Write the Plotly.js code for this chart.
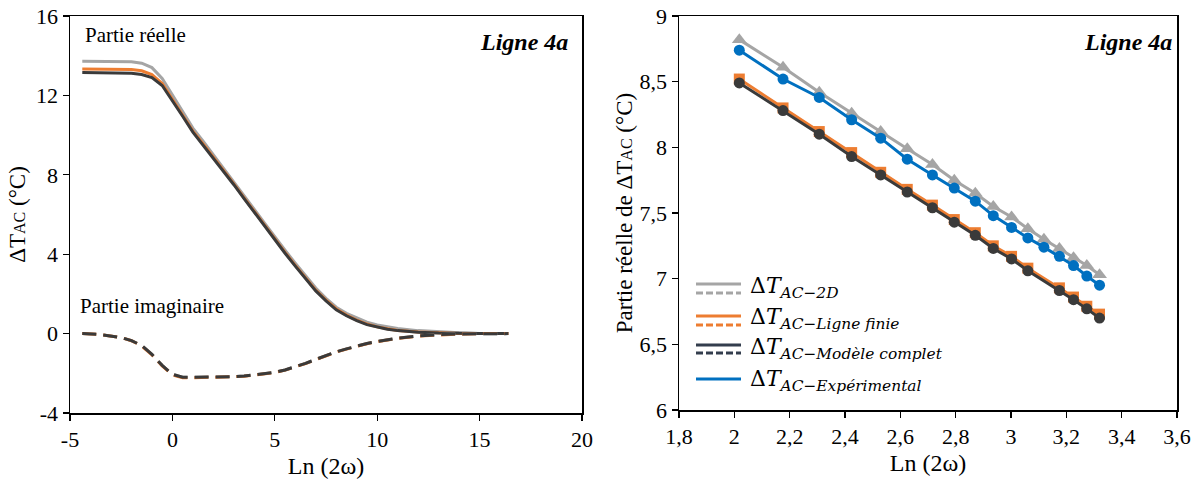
<!DOCTYPE html>
<html>
<head>
<meta charset="utf-8">
<script src="https://cdn.plot.ly/plotly-3.0.1.min.js"></script>
<style>html,body{margin:0;padding:0;background:#fff;}#chart{width:1200px;height:488px;}</style>
</head>
<body>
<div id="chart"></div>
<script>
// ---------- Left panel: full frequency response ----------
const lnOmega = [-4.4, -3.5, -2.5, -2, -1.5, -1, -0.5, 0, 0.5, 1, 1.5, 2, 2.5, 3, 3.5, 4, 4.5, 5, 5.5, 6, 6.5, 7, 7.5, 8, 8.5, 9, 9.5, 10, 10.5, 11, 12, 13, 14, 15, 16.4];
const real2D = [13.72, 13.72, 13.72, 13.7, 13.62, 13.4, 12.85, 12.0, 11.15, 10.35, 9.7, 9.02, 8.36, 7.66, 6.96, 6.26, 5.56, 4.86, 4.2, 3.55, 2.9, 2.3, 1.78, 1.33, 1.02, 0.78, 0.58, 0.44, 0.34, 0.26, 0.15, 0.08, 0.04, 0.01, 0];
const realLigne = [13.33, 13.33, 13.33, 13.3, 13.24, 13.05, 12.6, 11.8, 11.0, 10.2, 9.55, 8.9, 8.24, 7.54, 6.84, 6.14, 5.44, 4.74, 4.09, 3.44, 2.79, 2.19, 1.69, 1.24, 0.93, 0.68, 0.48, 0.34, 0.24, 0.16, 0.08, 0.03, 0.01, 0, 0];
const realComplet = [13.15, 13.15, 13.14, 13.12, 13.05, 12.9, 12.5, 11.75, 10.95, 10.15, 9.5, 8.85, 8.2, 7.5, 6.8, 6.1, 5.4, 4.7, 4.05, 3.4, 2.75, 2.15, 1.65, 1.2, 0.9, 0.65, 0.45, 0.32, 0.22, 0.15, 0.07, 0.03, 0.01, 0, 0];
const imag2D = [0, -0.05, -0.2, -0.35, -0.6, -1.05, -1.6, -2.05, -2.2, -2.2, -2.2, -2.19, -2.18, -2.17, -2.14, -2.08, -2.02, -1.95, -1.83, -1.68, -1.5, -1.3, -1.1, -0.92, -0.77, -0.63, -0.5, -0.4, -0.3, -0.23, -0.12, -0.05, -0.02, 0, 0];
const imagLigne = [0, -0.05, -0.2, -0.36, -0.62, -1.07, -1.63, -2.08, -2.23, -2.23, -2.22, -2.2, -2.19, -2.18, -2.15, -2.09, -2.03, -1.96, -1.84, -1.69, -1.51, -1.31, -1.11, -0.93, -0.78, -0.64, -0.51, -0.41, -0.31, -0.24, -0.13, -0.06, -0.02, 0, 0];
const imagComplet = [0, -0.05, -0.2, -0.35, -0.6, -1.05, -1.6, -2.05, -2.2, -2.2, -2.2, -2.19, -2.18, -2.17, -2.14, -2.08, -2.02, -1.95, -1.83, -1.68, -1.5, -1.3, -1.1, -0.92, -0.77, -0.63, -0.5, -0.4, -0.3, -0.23, -0.12, -0.05, -0.02, 0, 0];

// ---------- Right panel: zoom on the real part ----------
const lnOmegaAll = [2.018, 2.176, 2.307, 2.424, 2.529, 2.625, 2.716, 2.795, 2.871, 2.936, 3.002, 3.061, 3.119, 3.175, 3.226, 3.274, 3.320];
const zoom2D = [8.82, 8.61, 8.42, 8.26, 8.12, 7.99, 7.87, 7.75, 7.65, 7.55, 7.47, 7.38, 7.30, 7.23, 7.16, 7.10, 7.03];
const zoomExp = [8.74, 8.52, 8.38, 8.21, 8.07, 7.91, 7.79, 7.69, 7.59, 7.48, 7.39, 7.31, 7.24, 7.17, 7.10, 7.02, 6.95];
const lnOmegaModel = [2.018, 2.176, 2.307, 2.424, 2.529, 2.625, 2.716, 2.795, 2.871, 2.936, 3.002, 3.061, 3.175, 3.226, 3.274, 3.320];
const zoomLigne = [8.52, 8.30, 8.12, 7.96, 7.81, 7.68, 7.56, 7.45, 7.35, 7.25, 7.17, 7.08, 6.93, 6.86, 6.79, 6.73];
const zoomComplet = [8.49, 8.28, 8.10, 7.93, 7.79, 7.66, 7.54, 7.43, 7.33, 7.23, 7.15, 7.06, 6.91, 6.84, 6.77, 6.70];

// tick labels
const leftXTicks = [-5, 0, 5, 10, 15, 20];
const leftXTickText = ['-5', '0', '5', '10', '15', '20'];
const leftYTicks = [-4, 0, 4, 8, 12, 16];
const leftYTickText = ['-4', '0', '4', '8', '12', '16'];

// legend labels
const legendNames = [
  'Δ<i>T</i><sub><i>AC−2D</i></sub>',
  'Δ<i>T</i><sub><i>AC−Ligne finie</i></sub>',
  'Δ<i>T</i><sub><i>AC−Modèle complet</i></sub>',
  'Δ<i>T</i><sub><i>AC−Expérimental</i></sub>'
];

const SERIF = '"Liberation Serif", "Times New Roman", Times, serif';
const MATH = '"DejaVu Serif", serif';
const C_GRAY = '#A5A5A5', C_ORANGE = '#ED7D31', C_DARK = '#3A3A3A', C_BLUE = '#0070C0', C_DARK_LEG = '#333D4D';

function line(x, y, color, dash, xa, ya) {
  return {x: x, y: y, type: 'scatter', mode: 'lines', xaxis: xa, yaxis: ya,
    line: {color: color, width: 3, dash: dash || 'solid'}, hoverinfo: 'skip'};
}
function lm(x, y, color, symbol, size) {
  return {x: x, y: y, type: 'scatter', mode: 'lines+markers', xaxis: 'x2', yaxis: 'y2',
    line: {color: color, width: 3}, marker: {symbol: symbol, size: size, color: color}, hoverinfo: 'skip'};
}

const DASH = '14px,7px';
const data = [
  line(lnOmega, real2D, C_GRAY, 'solid', 'x', 'y'),
  line(lnOmega, realLigne, C_ORANGE, 'solid', 'x', 'y'),
  line(lnOmega, realComplet, C_DARK, 'solid', 'x', 'y'),
  line(lnOmega, imag2D, C_GRAY, DASH, 'x', 'y'),
  line(lnOmega, imagLigne, C_ORANGE, DASH, 'x', 'y'),
  line(lnOmega, imagComplet, C_DARK, DASH, 'x', 'y'),
  lm(lnOmegaAll, zoom2D, C_GRAY, 'triangle-up', 13),
  lm(lnOmegaAll, zoomExp, C_BLUE, 'circle', 11),
  lm(lnOmegaModel, zoomLigne, C_ORANGE, 'square', 11),
  lm(lnOmegaModel, zoomComplet, C_DARK, 'circle', 11)
];

const H = 488, W = 1200;
const py = p => 1 - p / H;
const px = p => p / W;

const axisBase = {showline: true, linecolor: '#000', linewidth: 1.5, mirror: true, ticks: 'outside',
  ticklen: 6, tickwidth: 1.3, tickcolor: '#000', showgrid: false, zeroline: false, automargin: false,
  tickfont: {family: SERIF, size: 22, color: '#000'}};

// manual legend (two line samples per model: solid = real, dashed = imaginary)
const legRows = [
  {solid: 284, dashed: 293, color: C_GRAY, text: 287},
  {solid: 316, dashed: 325, color: C_ORANGE, text: 318},
  {solid: 345, dashed: 353, color: C_DARK_LEG, text: 348},
  {solid: 379, dashed: null, color: C_BLUE, text: 380}
];
const shapes = [];
const annotations = [];
legRows.forEach((r, i) => {
  shapes.push({type: 'line', xref: 'paper', yref: 'paper', x0: px(696), x1: px(741), y0: py(r.solid), y1: py(r.solid),
    line: {color: r.color, width: 3}});
  if (r.dashed !== null) {
    shapes.push({type: 'line', xref: 'paper', yref: 'paper', x0: px(696), x1: px(741), y0: py(r.dashed), y1: py(r.dashed),
      line: {color: r.color, width: 3, dash: '7px,3px'}});
  }
  annotations.push({xref: 'paper', yref: 'paper', x: px(748), y: py(r.text), xanchor: 'left', yanchor: 'middle',
    showarrow: false, text: legendNames[i], font: {family: MATH, size: 22, color: '#000'}});
});

annotations.push(
  {xref: 'paper', yref: 'paper', x: px(83), y: py(35), xanchor: 'left', yanchor: 'middle', showarrow: false,
    text: 'Partie réelle', font: {family: SERIF, size: 21, color: '#000'}},
  {xref: 'paper', yref: 'paper', x: px(78), y: py(306), xanchor: 'left', yanchor: 'middle', showarrow: false,
    text: 'Partie imaginaire', font: {family: SERIF, size: 21, color: '#000'}},
  {xref: 'paper', yref: 'paper', x: px(570), y: py(42), xanchor: 'right', yanchor: 'middle', showarrow: false,
    text: '<b><i>Ligne 4a</i></b>', font: {family: SERIF, size: 24, color: '#000'}},
  {xref: 'paper', yref: 'paper', x: px(1174), y: py(42), xanchor: 'right', yanchor: 'middle', showarrow: false,
    text: '<b><i>Ligne 4a</i></b>', font: {family: SERIF, size: 24, color: '#000'}}
);

const layout = {
  width: W, height: H,
  margin: {l: 0, r: 0, t: 0, b: 0},
  paper_bgcolor: '#fff', plot_bgcolor: '#fff',
  showlegend: false,
  separators: ', ',
  font: {family: SERIF, size: 21, color: '#000'},
  xaxis: Object.assign({}, axisBase, {
    domain: [px(70), px(582)], range: [-5, 20], anchor: 'y',
    tickvals: leftXTicks, ticktext: leftXTickText,
    title: {text: 'Ln (2ω)', standoff: 6, font: {family: SERIF, size: 24, color: '#000'}}
  }),
  yaxis: Object.assign({}, axisBase, {
    domain: [py(413), py(16)], range: [-4, 16], anchor: 'x',
    tickvals: leftYTicks, ticktext: leftYTickText,
    title: {text: 'ΔT<span style="font-size:16px">AC</span> (°C)', standoff: 4, font: {family: SERIF, size: 23, color: '#000'}}
  }),
  xaxis2: Object.assign({}, axisBase, {
    domain: [px(679), px(1177)], range: [1.8, 3.6], anchor: 'y2', tick0: 1.8, dtick: 0.2,
    title: {text: 'Ln (2ω)', standoff: 6, font: {family: SERIF, size: 24, color: '#000'}}
  }),
  yaxis2: Object.assign({}, axisBase, {
    domain: [py(410), py(16)], range: [6, 9], anchor: 'x2', tick0: 6, dtick: 0.5,
    title: {text: 'Partie réelle de ΔT<span style="font-size:16px">AC</span> (°C)', standoff: 0, font: {family: SERIF, size: 23, color: '#000'}}
  }),
  shapes: shapes,
  annotations: annotations
};

Plotly.newPlot('chart', data, layout, {staticPlot: true, displayModeBar: false});
</script>
</body>
</html>
